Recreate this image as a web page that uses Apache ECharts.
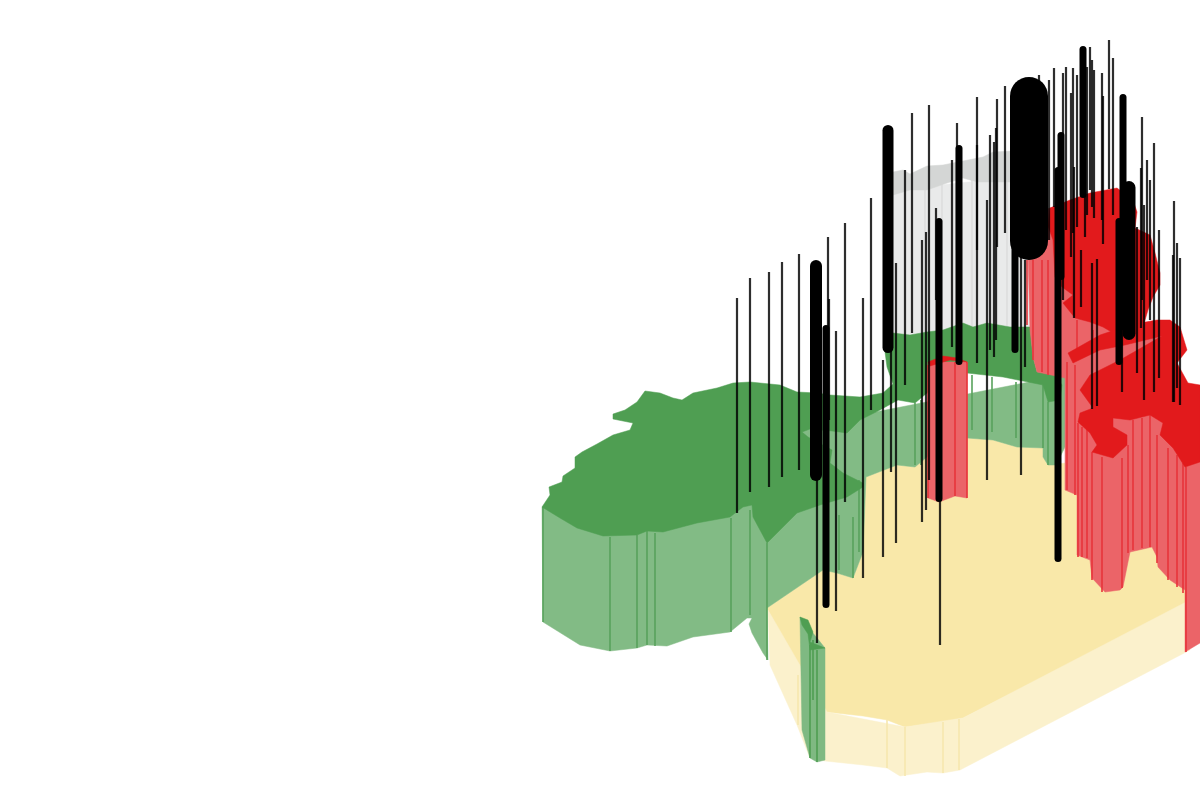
<!DOCTYPE html>
<html><head><meta charset="utf-8">
<style>html,body{margin:0;background:#fff}#c{width:1200px;height:800px}</style>
<script src="https://cdn.jsdelivr.net/npm/echarts@6/dist/echarts.min.js"></script>
</head><body><div id="c"></div>
<script>
var grayWall=[[893,190],[1035,175],[1035,345],[893,345]];
var grayTop=[[893,172],[903,170],[910,174],[927,166],[943,165],[963,161],[983,157],[993,152],[1030,150],[1030,182],[1000,182],[977,182],[963,178],[947,183],[927,190],[910,190],[893,195]];
var grayRibs=[[925,190,335],[942,184,332],[972,180,326],[997,182,326],[1007,182,326]];

var yellowWall=[[768,610],[770,665],[797,725],[810,758],[825,761],[863,765],[887,768],[900,776],[927,772],[943,773],[960,770],[1190,650],[1190,600],[963,718],[905,727],[827,712]];
var yellowTop=[[767,608],[823,570],[837,573],[853,578],[863,552],[866,477],[897,465],[915,467],[927,457],[967,438],[993,440],[1017,447],[1043,448],[1043,457],[1048,465],[1075,462],[1190,540],[1190,602],[963,718],[943,722],[905,727],[887,720],[863,716],[827,712],[810,700],[798,675]];
var yellowRibs=[[887,720,768],[905,727,776],[943,722,773],[959,719,770],[798,675,725]];

var greenWall=[[542,507],[543,622],[580,645],[610,651],[637,648],[647,645],[667,646],[693,637],[730,632],[747,618],[752,618],[749,624],[752,633],[763,653],[768,660],[767,608],[823,570],[837,573],[853,578],[863,552],[866,477],[897,465],[915,467],[927,457],[967,438],[993,440],[1017,447],[1043,448],[1043,457],[1048,465],[1056,465],[1065,447],[1065,375],[860,415],[802,425],[760,500]];
var greenTop=[[542,507],[550,495],[549,487],[562,482],[563,476],[575,468],[575,457],[582,452],[597,444],[613,435],[630,430],[633,423],[613,419],[613,414],[625,410],[637,402],[645,391],[660,393],[673,398],[682,400],[693,393],[717,388],[733,383],[750,382],[780,385],[797,392],[817,393],[830,395],[860,397],[883,393],[893,384],[887,367],[885,352],[893,333],[910,335],[927,332],[943,330],[963,323],[973,327],[987,323],[1010,327],[1030,327],[1033,357],[1037,372],[1055,375],[1062,385],[1060,400],[1048,402],[1043,385],[1003,377],[967,373],[927,393],[915,403],[898,400],[880,410],[860,420],[847,433],[832,431],[810,429],[802,432],[808,437],[832,450],[830,463],[843,473],[863,483],[863,487],[847,497],[820,505],[797,513],[780,530],[767,543],[753,517],[752,505],[743,507],[730,517],[697,523],[663,532],[647,531],[637,535],[603,536],[577,528],[560,518]];
var greenRibs=[[543,507,622],[610,537,651],[637,535,648],[647,531,645],[655,533,646],[731,518,632],[750,510,615],[767,543,660],[839,515,570],[853,517,578],[859,480,552],[915,403,465],[921,400,465],[972,375,430],[992,377,432],[1016,382,438],[1043,385,448],[1048,402,465]];
var greenSpitWall=[[800,617],[825,648],[825,760],[817,762],[810,758],[802,730]];
var greenSpitTop=[[800,617],[808,620],[813,632],[810,642],[825,648],[810,650],[808,634],[802,625]];
var spitRibs=[[810,645,758],[817,650,762],[813,640,700]];

var redCentreWall=[[928,362],[967,362],[967,498],[955,496],[939,502],[928,498]];
var redCentreTop=[[928,362],[943,356],[957,358],[967,362],[950,360],[930,366]];
var centreRibs=[[928,365,498],[955,362,496],[967,362,498]];

var redBackWall=[[1027,215],[1060,205],[1120,337],[1145,326],[1168,335],[1130,365],[1100,400],[1085,420],[1085,495],[1077,495],[1065,490],[1065,378],[1037,372],[1033,357],[1030,330]];
var backRibs=[[1027,260,325],[1033,260,360],[1042,260,372],[1048,260,375],[1067,362,490],[1075,365,495],[1077,320,350],[1093,330,345]];
var redBackTop=[[1050,208],[1070,200],[1090,193],[1117,188],[1133,200],[1137,212],[1135,228],[1150,235],[1155,253],[1160,273],[1160,285],[1153,297],[1148,310],[1143,327],[1120,337],[1103,327],[1090,322],[1075,318],[1063,303],[1073,295],[1062,287],[1055,277],[1053,240],[1048,226]];

var redFrontWall=[[1077,400],[1200,400],[1200,643],[1185,652],[1185,590],[1170,580],[1158,567],[1157,557],[1152,547],[1130,552],[1123,587],[1120,590],[1105,592],[1092,578],[1090,560],[1077,555]];
var frontRibs=[[1078,423,557],[1082,427,557],[1087,428,558],[1092,452,580],[1102,457,592],[1122,458,588],[1128,445,553],[1133,420,550],[1142,418,548],[1150,415,547],[1157,435,563],[1168,448,580],[1177,455,587],[1183,463,593],[1186,467,652]];
var redFrontTop=[[1068,353],[1077,348],[1100,335],[1115,330],[1140,323],[1157,320],[1170,320],[1180,327],[1187,350],[1177,363],[1188,383],[1200,385],[1200,462],[1185,467],[1173,448],[1160,435],[1163,423],[1150,415],[1130,420],[1113,418],[1113,427],[1127,435],[1127,445],[1113,458],[1092,452],[1097,445],[1090,433],[1078,422],[1080,413],[1093,408],[1080,390],[1090,375],[1120,360],[1162,336],[1125,345],[1100,350],[1073,363]];

var spikeX=[737,750,769,782,799,817,828,829,836,845,863,871,883,891,896,905,912,922,926,929,936,940,952,957,977,977,987,990,994,996,997,1005,1021,1025,1039,1049,1054,1063,1066,1071,1073,1074,1077,1081,1085,1087,1090,1092,1094,1092,1097,1102,1103,1109,1113,1122,1137,1142,1141,1144,1147,1150,1154,1159,1174,1173,1177,1180,816,826,888,939,959,1015,1029,1058,1061,1083,1119,1123,1129];
var spikeTop=[298,278,272,262,254,300,237,299,331,223,298,198,360,300,263,170,113,240,232,105,208,300,160,123,97,145,200,135,142,128,99,86,230,260,75,80,68,73,67,93,68,167,75,250,120,67,47,60,70,263,259,73,96,40,58,200,227,117,168,205,160,180,143,230,201,255,243,258,260,325,125,218,145,160,77,167,132,46,218,94,181];
var spikeBottom=[513,492,487,477,470,643,420,420,611,502,578,410,557,472,543,385,333,522,510,480,300,645,347,250,250,363,480,350,357,340,247,233,475,367,250,240,207,300,230,257,233,318,227,307,237,215,190,207,218,409,406,220,244,189,215,392,373,300,328,400,280,320,392,378,402,402,388,405,481,608,353,502,365,353,260,562,280,198,365,330,340];
var spikeWeight=[1,1,1,1,1,1,1,1,1,1,1,1,1,1,1,1,1,1,1,1,1,1,1,1,1,1,1,1,1,1,1,1,1,1,1,1,1,1,1,1,1,1,1,1,1,1,1,1,1,1,1,1,1,1,1,1,1,1,1,1,1,1,1,1,1,1,1,1,6,3.5,5.5,3.5,3.5,3.5,19,3.5,3.5,3.5,3.5,3.5,6.5];

var layers=[
 {poly:grayWall,fill:'#e9eaea',ribs:grayRibs,rib:'#dcdddd'},
 {poly:grayTop,fill:'#d4d6d5'},
 {poly:yellowTop,fill:'#f9e8a9'},
 {poly:yellowWall,fill:'#fbf1cc',ribs:yellowRibs,rib:'#f7e8ae'},
 {poly:greenWall,fill:'#82bb85',ribs:greenRibs,rib:'#58a25c'},
 {poly:greenTop,fill:'#4f9e52'},
 {poly:greenSpitWall,fill:'#7fb982',ribs:spitRibs,rib:'#4f9e52'},
 {poly:greenSpitTop,fill:'#4f9e52'},
 {poly:redCentreWall,fill:'#eb6468',ribs:centreRibs,rib:'#e8343a'},
 {poly:redCentreTop,fill:'#e21a1c'},
 {poly:redBackWall,fill:'#eb6468',ribs:backRibs,rib:'#e8343a'},
 {poly:redBackTop,fill:'#e21a1c'},
 {poly:redFrontWall,fill:'#eb6468',ribs:frontRibs,rib:'#e8343a'},
 {poly:redFrontTop,fill:'#e21a1c'}
];

var chart=echarts.init(document.getElementById('c'),null,{renderer:'canvas'});
chart.setOption({
 animation:false,
 backgroundColor:'#ffffff',
 grid:{left:0,right:0,top:0,bottom:0},
 xAxis:{type:'value',min:0,max:1200,show:false},
 yAxis:{type:'value',min:0,max:800,inverse:true,show:false},
 series:[
  {type:'custom',coordinateSystem:'cartesian2d',clip:true,silent:true,
   data:layers.map(function(l,i){return [i];}),
   encode:{x:0},
   renderItem:function(p,api){
    var l=layers[api.value(0)];
    var kids=[{type:'polygon',shape:{points:l.poly.map(function(q){return api.coord(q);})},style:{fill:l.fill,stroke:l.fill,lineWidth:0.5}}];
    (l.ribs||[]).forEach(function(r){
     var a=api.coord([r[0],r[1]]),b=api.coord([r[0],r[2]]);
     kids.push({type:'line',shape:{x1:a[0],y1:a[1],x2:b[0],y2:b[1]},style:{stroke:l.rib,lineWidth:1.6}});
    });
    return {type:'group',children:kids};
   }},
  {type:'custom',coordinateSystem:'cartesian2d',clip:true,silent:true,z:5,
   data:spikeX.map(function(x,i){return [x,spikeTop[i],spikeBottom[i],spikeWeight[i]];}),
   encode:{x:0,y:[1,2]},
   renderItem:function(p,api){
    var w=api.value(3);
    var a=api.coord([api.value(0),api.value(1)]),b=api.coord([api.value(0),api.value(2)]);
    var lw=w>1?w*2:2.2;
    var inset=w>1?lw/2:0;
    return {type:'line',shape:{x1:a[0],y1:a[1]+inset,x2:b[0],y2:b[1]-inset},
     style:{stroke:'#000',lineWidth:lw,lineCap:w>1?'round':'butt',opacity:w>1?1:0.82}};
   }}
 ]
});
</script></body></html>
